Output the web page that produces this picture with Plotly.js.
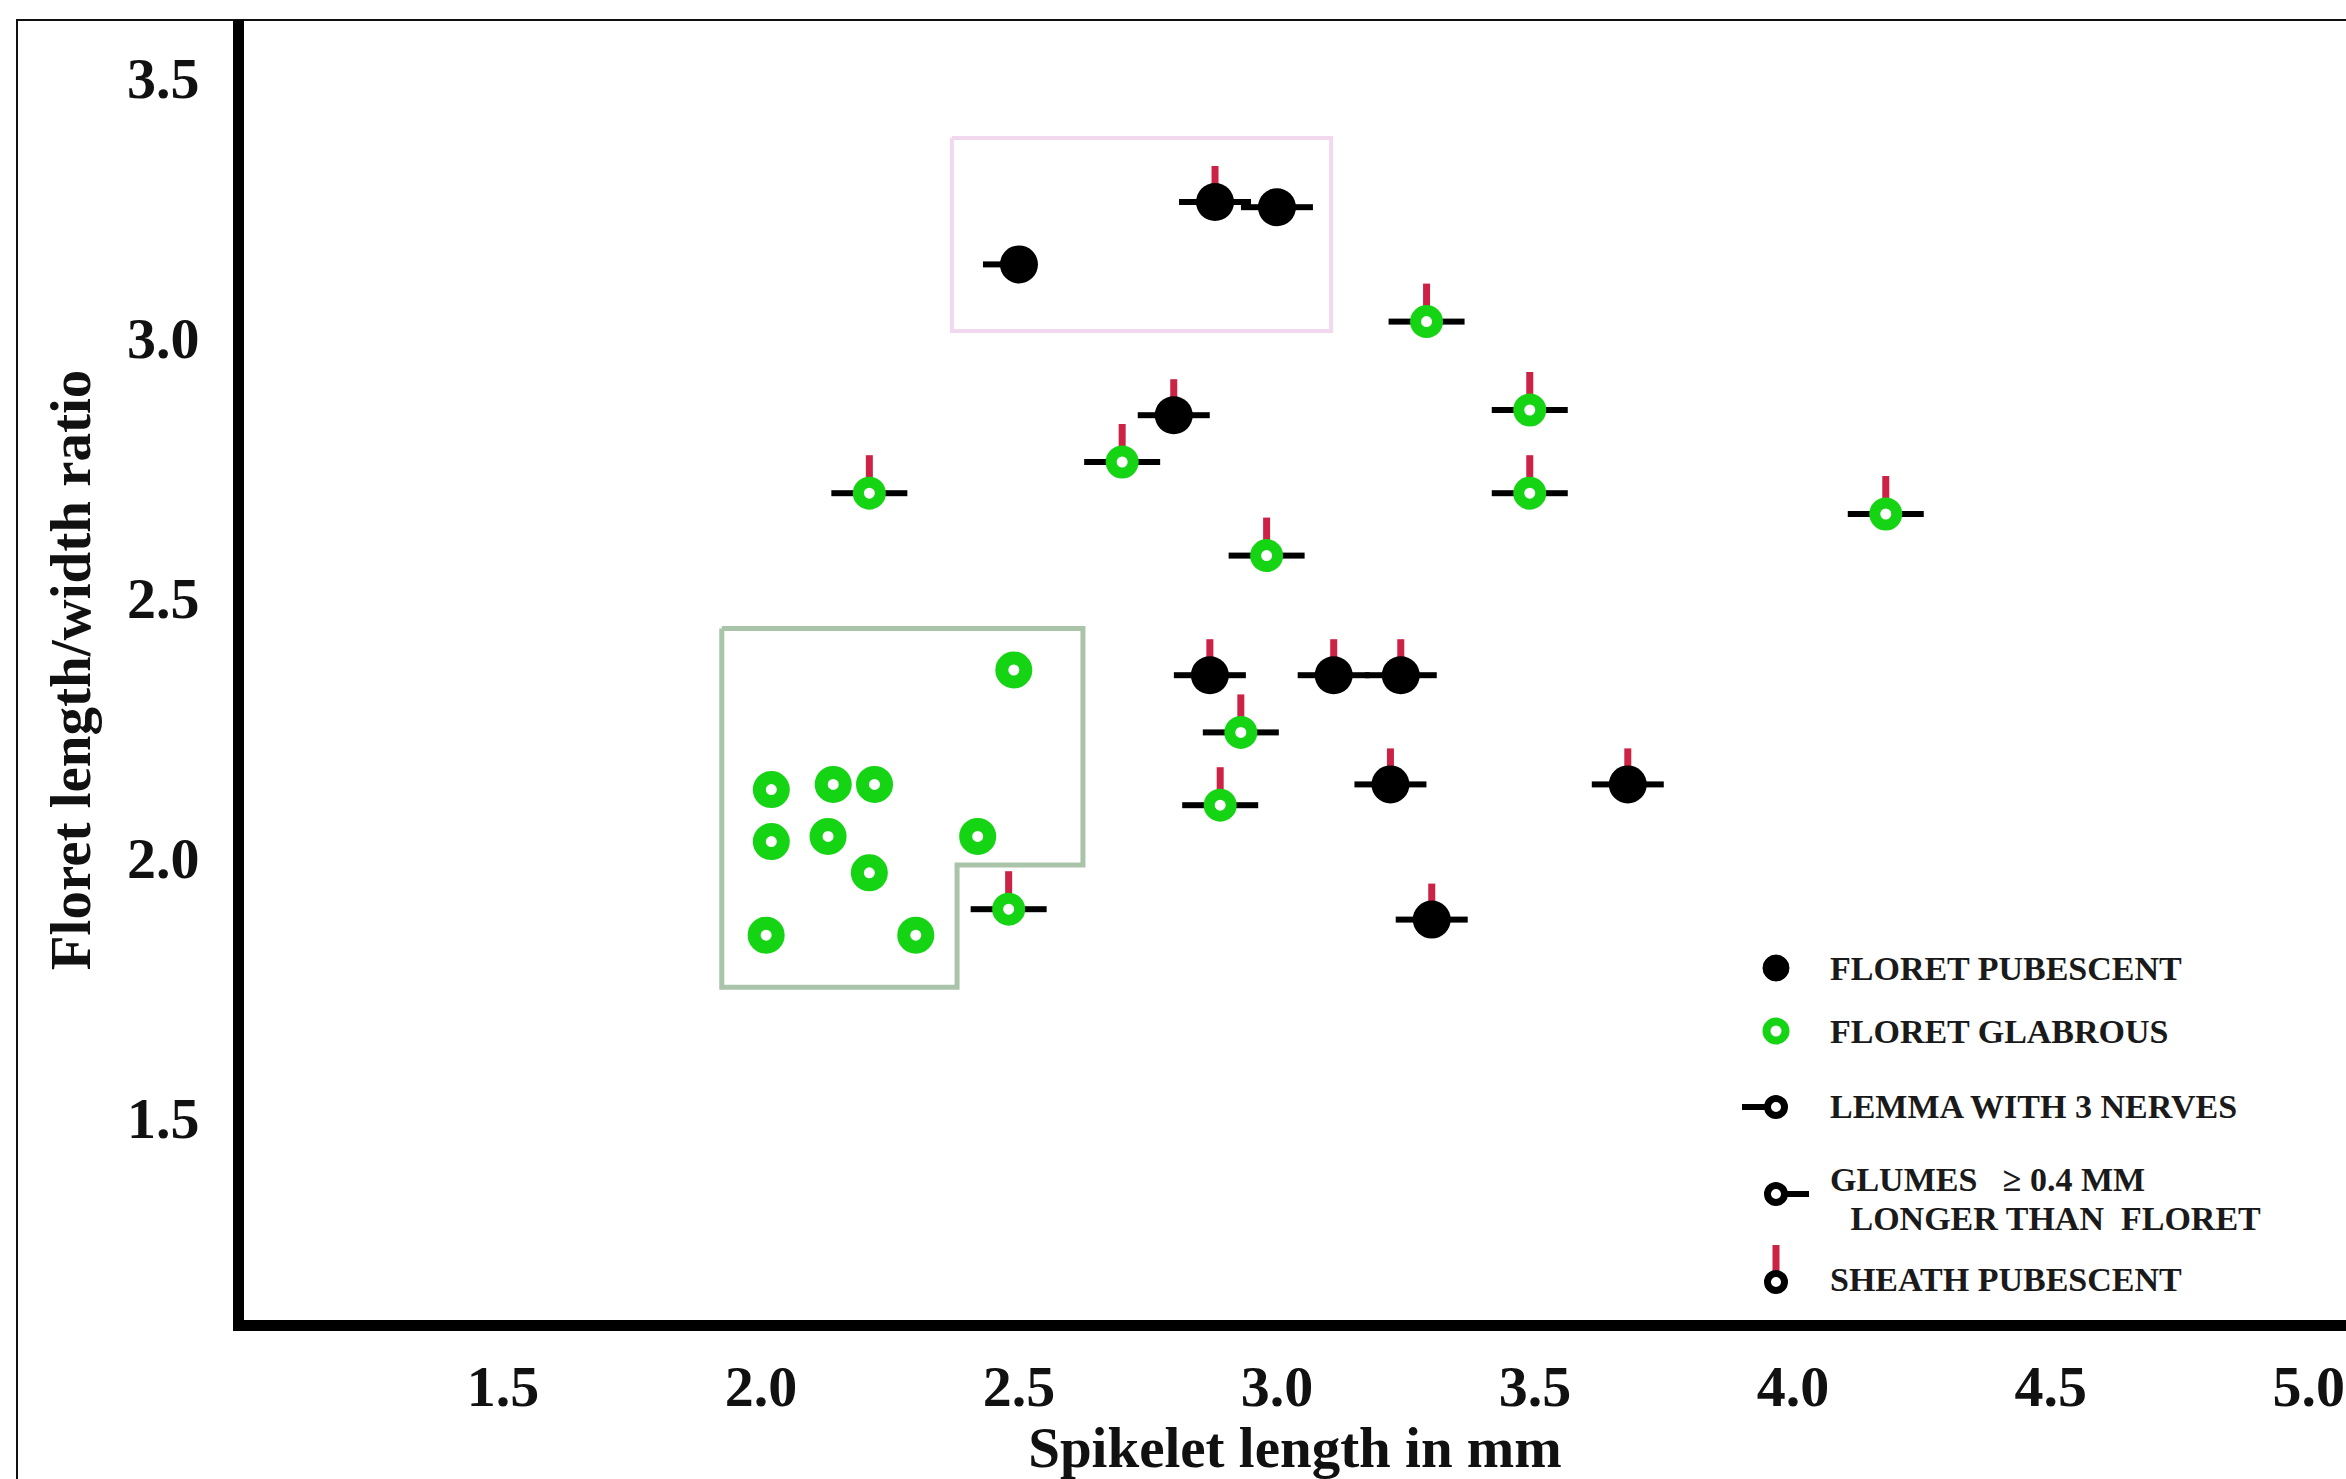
<!DOCTYPE html>
<html>
<head>
<meta charset="utf-8">
<script src="https://cdn.plot.ly/plotly-3.0.1.min.js"></script>
<style>
  html, body { margin: 0; padding: 0; background: #ffffff; }
  #chart { width: 2346px; height: 1479px; }
</style>
</head>
<body>
<div id="chart"></div>
<script>
// ---------------- DATA ----------------
const xTickVals = [1.5, 2.0, 2.5, 3.0, 3.5, 4.0, 4.5, 5.0];
const xTickText = ['1.5', '2.0', '2.5', '3.0', '3.5', '4.0', '4.5', '5.0'];
const yTickVals = [1.5, 2.0, 2.5, 3.0, 3.5];
const yTickText = ['1.5', '2.0', '2.5', '3.0', '3.5'];

// Floret pubescent (black dots)
const pubX      = [2.50, 2.88, 3.00, 2.80, 2.87, 3.11, 3.24, 3.22, 3.68, 3.30];
const pubY      = [3.14, 3.26, 3.25, 2.85, 2.35, 2.35, 2.35, 2.14, 2.14, 1.88];
const pubLemma  = [1, 1, 1, 1, 1, 1, 1, 1, 1, 1];   // bar on left
const pubGlumes = [0, 1, 1, 1, 1, 1, 1, 1, 1, 1];   // bar on right
const pubSheath = [0, 1, 0, 1, 1, 1, 1, 1, 1, 1];   // red bar on top

// Floret glabrous (green rings)
const glabX      = [3.29, 3.49, 3.49, 4.18, 2.21, 2.70, 2.98, 2.93, 2.89, 2.48,
                    2.49, 2.02, 2.14, 2.22, 2.02, 2.13, 2.42, 2.21, 2.01, 2.30];
const glabY      = [3.03, 2.86, 2.70, 2.66, 2.70, 2.76, 2.58, 2.24, 2.10, 1.90,
                    2.36, 2.13, 2.14, 2.14, 2.03, 2.04, 2.04, 1.97, 1.85, 1.85];
const glabLemma  = [1, 1, 1, 1, 1, 1, 1, 1, 1, 1, 0, 0, 0, 0, 0, 0, 0, 0, 0, 0];
const glabGlumes = [1, 1, 1, 1, 1, 1, 1, 1, 1, 1, 0, 0, 0, 0, 0, 0, 0, 0, 0, 0];
const glabSheath = [1, 1, 1, 1, 1, 1, 1, 1, 1, 1, 0, 0, 0, 0, 0, 0, 0, 0, 0, 0];

// Enclosing outlines (data units)
const pinkBoxX  = [2.37, 3.105, 3.105, 2.37, 2.37];
const pinkBoxY  = [3.383, 3.383, 3.012, 3.012, 3.383];
const greenBoxX = [1.924, 2.624, 2.624, 2.38, 2.38, 1.924, 1.924];
const greenBoxY = [2.44, 2.44, 1.985, 1.985, 1.75, 1.75, 2.44];

const legendLabels = ['FLORET PUBESCENT', 'FLORET GLABROUS', 'LEMMA WITH 3 NERVES',
                      'GLUMES \u00A0 \u2265 0.4 MM', '\u00A0LONGER THAN \u00A0FLORET', 'SHEATH PUBESCENT'];
const xTitle = 'Spikelet length in mm';
const yTitle = 'Floret length/width ratio';

// ---------------- STYLE ----------------
const GREEN = '#14d414';
const RED = '#cc2245';
const SERIF = 'Liberation Serif, Times New Roman, serif';

// plot area geometry (px)
const L = 244, T = 20, W = 2102, H = 1300;
const px = v => (v - L) / W;
const py = v => (T + H - v) / H;

const shapes = [];

// outer thin frame
shapes.push({type: 'rect', xref: 'paper', yref: 'paper', x0: px(17), x1: 1.2, y0: -0.3, y1: 1,
             line: {color: '#111', width: 2}, fillcolor: 'rgba(0,0,0,0)', layer: 'below'});

function addGlyphBars(xs, ys, lemma, glumes, sheath, reach, inner, barW, redW) {
  for (let i = 0; i < xs.length; i++) {
    if (lemma[i]) shapes.push({type: 'line', xref: 'x', yref: 'y', xsizemode: 'pixel', xanchor: xs[i],
      x0: -reach, x1: -inner, y0: ys[i], y1: ys[i], line: {color: '#000', width: barW}, layer: 'below'});
    if (glumes[i]) shapes.push({type: 'line', xref: 'x', yref: 'y', xsizemode: 'pixel', xanchor: xs[i],
      x0: inner, x1: reach, y0: ys[i], y1: ys[i], line: {color: '#000', width: barW}, layer: 'below'});
    if (sheath[i]) shapes.push({type: 'line', xref: 'x', yref: 'y', ysizemode: 'pixel', yanchor: ys[i],
      x0: xs[i], x1: xs[i], y0: inner, y1: reach, line: {color: RED, width: redW}, layer: 'below'});
  }
}
addGlyphBars(pubX, pubY, pubLemma, pubGlumes, pubSheath, 36, 10, 6, 7);
addGlyphBars(glabX, glabY, glabLemma, glabGlumes, glabSheath, 38, 10, 6, 7);

// ---- legend icons (paper coords, pixel sized) ----
const LX = 1776;
const legY = [968, 1031, 1107, 1194, 1282];
function circ(cx, cy, r, fill, lineColor, lineW) {
  shapes.push({type: 'circle', xref: 'paper', yref: 'paper', xsizemode: 'pixel', ysizemode: 'pixel',
    xanchor: px(cx), yanchor: py(cy), x0: -r, x1: r, y0: -r, y1: r,
    fillcolor: fill, line: {color: lineColor, width: lineW}});
}
function hbar(cx, cy, a, b, color, w) {
  shapes.push({type: 'line', xref: 'paper', yref: 'paper', xsizemode: 'pixel', ysizemode: 'pixel',
    xanchor: px(cx), yanchor: py(cy), x0: a, x1: b, y0: 0, y1: 0, line: {color: color, width: w}});
}
function vbar(cx, cy, a, b, color, w) {
  shapes.push({type: 'line', xref: 'paper', yref: 'paper', xsizemode: 'pixel', ysizemode: 'pixel',
    xanchor: px(cx), yanchor: py(cy), x0: 0, x1: 0, y0: a, y1: b, line: {color: color, width: w}});
}
circ(LX, legY[0], 13, '#000', '#000', 1);
circ(LX, legY[1], 9.5, '#fff', GREEN, 8);
hbar(LX, legY[2], -34, -10, '#000', 6);
circ(LX, legY[2], 8.5, '#fff', '#000', 7);
hbar(LX, legY[3], 10, 33, '#000', 6);
circ(LX, legY[3], 8.5, '#fff', '#000', 7);
vbar(LX, legY[4], 10, 37, RED, 7);
circ(LX, legY[4], 8.5, '#fff', '#000', 7);

const legTextX = [1828, 1828, 1828, 1828, 1840, 1828];
const legTextY = [968, 1031, 1106, 1179, 1218, 1279];
const annotations = legendLabels.map((t, i) => ({
  text: t, xref: 'paper', yref: 'paper', x: px(legTextX[i]), y: py(legTextY[i]),
  xanchor: 'left', yanchor: 'middle', showarrow: false,
  font: {family: SERIF, size: 34, color: '#1a1a1a', weight: 'bold'}
}));

// ---------------- TRACES ----------------
const traces = [
  {type: 'scatter', mode: 'lines', x: pinkBoxX, y: pinkBoxY,
   line: {color: '#f2d8ee', width: 4}, hoverinfo: 'skip', showlegend: false},
  {type: 'scatter', mode: 'lines', x: greenBoxX, y: greenBoxY,
   line: {color: '#aac4aa', width: 5}, hoverinfo: 'skip', showlegend: false},
  {type: 'scatter', mode: 'markers', name: 'FLORET PUBESCENT', x: pubX, y: pubY,
   marker: {symbol: 'circle', size: 38, color: '#000', opacity: 1, line: {width: 0}}, showlegend: false},
  {type: 'scatter', mode: 'markers', name: 'FLORET GLABROUS', x: glabX, y: glabY,
   marker: {symbol: 'circle', color: '#fff', opacity: 1,
            size: glabSheath.map(s => s ? 22 : 24),
            line: {color: GREEN, width: glabSheath.map(s => s ? 11 : 13)}}, showlegend: false}
];

const axisFont = {family: SERIF, size: 58, color: '#111', weight: 'bold'};

const layout = {
  width: 2346, height: 1479,
  margin: {l: L, r: 2346 - L - W, t: T, b: 1479 - T - H, pad: 0},
  paper_bgcolor: '#fff', plot_bgcolor: '#fff',
  showlegend: false,
  xaxis: {
    range: [0.998, 5.072], tickvals: xTickVals, ticktext: xTickText,
    showgrid: false, zeroline: false, ticks: '', showline: true, linecolor: '#000', linewidth: 11,
    tickfont: axisFont, ticklabelstandoff: 5,
    title: {text: xTitle, font: {family: SERIF, size: 57, color: '#111', weight: 'bold'}, standoff: 32}
  },
  yaxis: {
    range: [1.110, 3.610], tickvals: yTickVals, ticktext: yTickText,
    showgrid: false, zeroline: false, ticks: '', showline: true, linecolor: '#000', linewidth: 11,
    tickfont: axisFont, ticklabelstandoff: 22,
    title: {text: yTitle, font: {family: SERIF, size: 57, color: '#111', weight: 'bold'}, standoff: 22}
  },
  shapes: shapes,
  annotations: annotations
};

Plotly.newPlot('chart', traces, layout, {displayModeBar: false, staticPlot: true});
</script>
</body>
</html>
